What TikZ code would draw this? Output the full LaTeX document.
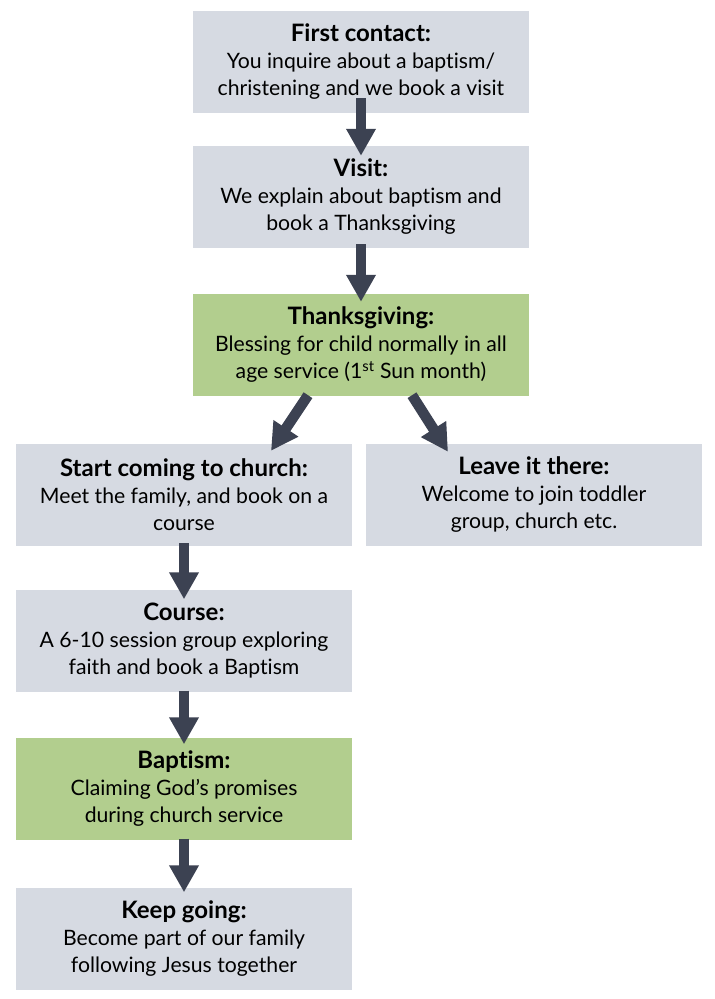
\documentclass[tikz,border=0pt]{standalone}
\usepackage{fontspec}
\setmainfont{Lato}[Ligatures=NoCommon]
\usetikzlibrary{arrows.meta}
\definecolor{boxgray}{RGB}{214,218,226}
\definecolor{boxgreen}{RGB}{178,206,142}
\definecolor{arrowc}{RGB}{60,66,82}
\newcommand{\stitle}[1]{{\fontsize{24}{27}\selectfont\bfseries #1}}
\tikzset{
  stage/.style={rectangle, fill=boxgray, draw=none, minimum width=336pt, minimum height=102pt,
    inner sep=0pt, align=center, text=black, font=\fontsize{21.2}{27}\selectfont},
  keystage/.style={stage, fill=boxgreen},
  flow/.style={draw=arrowc, line width=10.5pt, -{Triangle[width=28pt,length=27pt]}}
}
\begin{document}
\begin{tikzpicture}[x=1pt,y=-1pt]
\useasboundingbox[fill=white] (0,0) rectangle (715,999);
\node[stage] (f) at (361,62) {\stitle{First contact:}\\You inquire about a baptism/\\christening and we book a visit};
\node[stage] (v) at (361,197) {\stitle{Visit:}\\We explain about baptism and\\book a Thanksgiving};
\node[keystage] (t) at (361,345) {\stitle{Thanksgiving:}\\Blessing for child normally in all\\age service (1\textsuperscript{st} Sun month)};
\node[stage] (s) at (184,495) {\stitle{Start coming to church:}\\Meet the family, and book on a\\course};
\node[stage] (l) at (534,495) {\stitle{Leave it there:}\\Welcome to join toddler\\group, church etc.};
\node[stage] (c) at (184,640.5) {\stitle{Course:}\\A 6-10 session group exploring\\faith and book a Baptism};
\node[keystage] (b) at (184,788.5) {\stitle{Baptism:}\\Claiming God’s promises\\during church service};
\node[stage] (k) at (184,938.5) {\stitle{Keep going:}\\Become part of our family\\following Jesus together};
\draw[flow] ([yshift=15pt]f.south) -- ([yshift=-10pt]v.north);
\draw[flow] ([yshift=4pt]v.south) -- ([yshift=-8pt]t.north);
\draw[flow] ([xshift=-53pt,yshift=1pt]t.south) -- ([xshift=87pt,yshift=-7pt]s.north);
\draw[flow] ([xshift=51pt,yshift=1pt]t.south) -- ([xshift=-86pt,yshift=-8pt]l.north);
\draw[flow] ([yshift=3pt]s.south) -- ([yshift=-10pt]c.north);
\draw[flow] ([yshift=1pt]c.south) -- ([yshift=-7pt]b.north);
\draw[flow] ([yshift=1pt]b.south) -- ([yshift=-5pt]k.north);
\end{tikzpicture}
\end{document}
